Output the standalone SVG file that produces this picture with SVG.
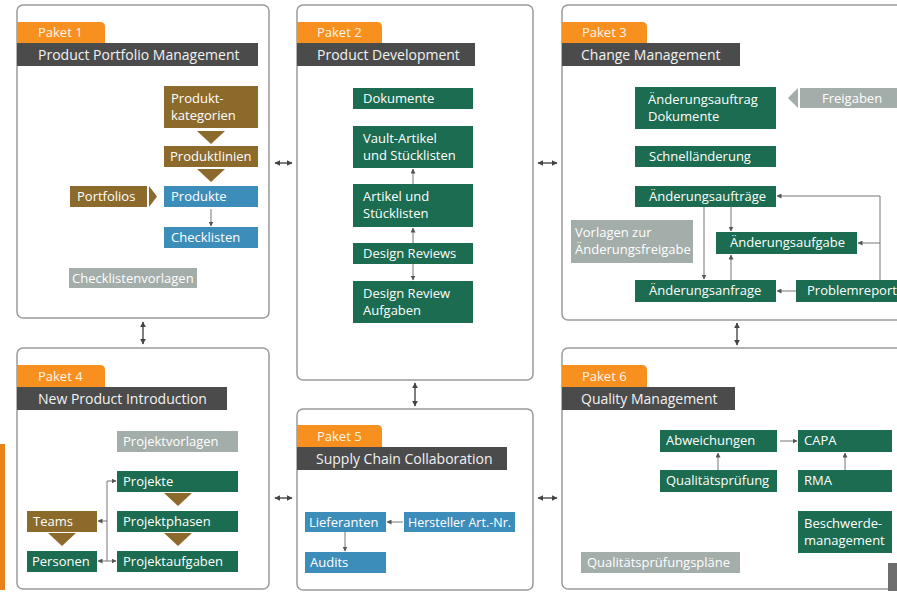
<svg xmlns="http://www.w3.org/2000/svg" width="897" height="596" viewBox="0 0 897 596">
<defs>
<style>
.panel{fill:#fff;stroke:#9a9a9a;stroke-width:1.5}
.tab{fill:#f7901e}
.hdr{fill:#4b4b4b}
.tabt{font-family:"Open Sans","DejaVu Sans",sans-serif;font-size:13px;fill:#fff5e8}
.hdrt{font-family:"Open Sans","DejaVu Sans",sans-serif;font-size:14px;fill:#f2f2f2}
.g{fill:#1b6c50}
.b{fill:#8c6a2c}
.bl{fill:#3d8dba}
.gr{fill:#a3adaa}
.t{font-family:"Open Sans","DejaVu Sans",sans-serif;font-size:13px;fill:#fff}
.c{fill:none;stroke:#777;stroke-width:1}
.pc{fill:none;stroke:#555;stroke-width:1.5}
</style>
<marker id="a" viewBox="0 0 10 10" refX="9" refY="5" markerWidth="5" markerHeight="5" markerUnits="userSpaceOnUse" orient="auto-start-reverse"><path d="M0,0 L10,5 L0,10 Z" fill="#555"/></marker>
<marker id="pa" viewBox="0 0 10 10" refX="9" refY="5" markerWidth="6" markerHeight="6" markerUnits="userSpaceOnUse" orient="auto-start-reverse"><path d="M0,0 L10,5 L0,10 Z" fill="#444"/></marker>
</defs>
<rect x="0" y="0" width="897" height="596" fill="#fff"/>
<rect x="0" y="444" width="5" height="146" fill="#e8821a"/>

<!-- Panels -->
<g id="paket1">
<rect class="panel" x="17" y="5" width="252" height="313" rx="6"/>
<path class="tab" d="M17,43 V22 H100 Q105,22 105,27 V43 Z"/>
<rect class="hdr" x="17" y="43" width="241" height="23"/>
<text class="tabt" x="38" y="37">Paket 1</text>
<text class="hdrt" x="38" y="60">Product Portfolio Management</text>
</g>
<g id="paket2">
<rect class="panel" x="297" y="5" width="236" height="375" rx="6"/>
<path class="tab" d="M297,43 V22 H377 Q382,22 382,27 V43 Z"/>
<rect class="hdr" x="297" y="43" width="178" height="23"/>
<text class="tabt" x="317" y="37">Paket 2</text>
<text class="hdrt" x="317" y="60">Product Development</text>
</g>
<g id="paket3">
<rect class="panel" x="562" y="5" width="345" height="315" rx="6"/>
<path class="tab" d="M562,43 V22 H642 Q647,22 647,27 V43 Z"/>
<rect class="hdr" x="562" y="43" width="178" height="23"/>
<text class="tabt" x="582" y="37">Paket 3</text>
<text class="hdrt" x="581" y="60">Change Management</text>
</g>
<g id="paket4">
<rect class="panel" x="17" y="348" width="252" height="241" rx="6"/>
<path class="tab" d="M17,387 V365 H100 Q105,365 105,370 V387 Z"/>
<rect class="hdr" x="17" y="387" width="210" height="23"/>
<text class="tabt" x="38" y="381">Paket 4</text>
<text class="hdrt" x="38" y="404">New Product Introduction</text>
</g>
<g id="paket5">
<rect class="panel" x="297" y="409" width="236" height="181" rx="6"/>
<path class="tab" d="M297,447 V425 H377 Q382,425 382,430 V447 Z"/>
<rect class="hdr" x="297" y="447" width="210" height="23"/>
<text class="tabt" x="317" y="441">Paket 5</text>
<text class="hdrt" x="316" y="464">Supply Chain Collaboration</text>
</g>
<g id="paket6">
<rect class="panel" x="562" y="348" width="345" height="241" rx="6"/>
<path class="tab" d="M562,387 V365 H642 Q647,365 647,370 V387 Z"/>
<rect class="hdr" x="562" y="387" width="173" height="23"/>
<text class="tabt" x="582" y="381">Paket 6</text>
<text class="hdrt" x="581" y="404">Quality Management</text>
</g>

<!-- Paket 1 nodes -->
<g id="produktkategorien"><rect class="b" x="164" y="86" width="94" height="42"/><text class="t" x="171" y="103">Produkt-</text><text class="t" x="171" y="120">kategorien</text></g>
<g id="tri-p1a"><polygon class="b" points="197,131 225,131 211,144"/></g>
<g id="produktlinien"><rect class="b" x="164" y="146" width="94" height="21"/><text class="t" x="170" y="161">Produktlinien</text></g>
<g id="tri-p1b"><polygon class="b" points="197,169 225,169 211,182"/></g>
<g id="produkte"><rect class="bl" x="164" y="186" width="94" height="21"/><text class="t" x="171" y="201">Produkte</text></g>
<g id="portfolios"><rect class="b" x="70" y="186" width="77" height="21"/><polygon class="b" points="149,186 157,196.5 149,207"/><text class="t" x="77" y="201">Portfolios</text></g>
<g id="checklisten"><rect class="bl" x="164" y="227" width="94" height="21"/><text class="t" x="171" y="242">Checklisten</text></g>
<g id="checklistenvorlagen"><rect class="gr" x="69" y="268" width="128" height="20"/><text class="t" x="72" y="283">Checklistenvorlagen</text></g>

<!-- Paket 2 nodes -->
<g id="dokumente"><rect class="g" x="353" y="88" width="120" height="21"/><text class="t" x="363" y="103">Dokumente</text></g>
<g id="vault-artikel"><rect class="g" x="353" y="126" width="120" height="42"/><text class="t" x="363" y="143">Vault-Artikel</text><text class="t" x="363" y="160">und Stücklisten</text></g>
<g id="artikel"><rect class="g" x="353" y="184" width="120" height="43"/><text class="t" x="363" y="201">Artikel und</text><text class="t" x="363" y="218">Stücklisten</text></g>
<g id="design-reviews"><rect class="g" x="353" y="243" width="120" height="21"/><text class="t" x="363" y="258">Design Reviews</text></g>
<g id="design-review-aufgaben"><rect class="g" x="353" y="281" width="120" height="42"/><text class="t" x="363" y="298">Design Review</text><text class="t" x="363" y="315">Aufgaben</text></g>

<!-- Paket 3 nodes -->
<g id="aenderungsauftrag-dokumente"><rect class="g" x="635" y="87" width="141" height="42"/><text class="t" x="648" y="104">Änderungsauftrag</text><text class="t" x="648" y="121">Dokumente</text></g>
<g id="freigaben"><polygon class="gr" points="788,98 798,88 798,108"/><rect class="gr" x="800" y="88" width="100" height="20"/><text class="t" x="822" y="103">Freigaben</text></g>
<g id="schnellaenderung"><rect class="g" x="635" y="146" width="141" height="21"/><text class="t" x="649" y="161">Schnelländerung</text></g>
<g id="aenderungsauftraege"><rect class="g" x="635" y="186" width="141" height="21"/><text class="t" x="649" y="201">Änderungsaufträge</text></g>
<g id="aenderungsaufgabe"><rect class="g" x="716" y="232" width="141" height="22"/><text class="t" x="730" y="247">Änderungsaufgabe</text></g>
<g id="vorlagen"><rect class="gr" x="571" y="220" width="122" height="43"/><text class="t" x="575" y="237">Vorlagen zur</text><text class="t" x="575" y="254">Änderungsfreigabe</text></g>
<g id="aenderungsanfrage"><rect class="g" x="635" y="280" width="141" height="22"/><text class="t" x="649" y="295">Änderungsanfrage</text></g>
<g id="problemreport"><rect class="g" x="796" y="280" width="110" height="22"/><text class="t" x="807" y="295">Problemreport</text></g>

<!-- Paket 4 nodes -->
<g id="projektvorlagen"><rect class="gr" x="117" y="431" width="121" height="21"/><text class="t" x="123" y="446">Projektvorlagen</text></g>
<g id="projekte"><rect class="g" x="117" y="471" width="121" height="21"/><text class="t" x="123" y="486">Projekte</text></g>
<g id="tri-p4a"><polygon class="b" points="164,493 192,493 178,506"/></g>
<g id="projektphasen"><rect class="g" x="117" y="511" width="121" height="21"/><text class="t" x="123" y="526">Projektphasen</text></g>
<g id="tri-p4b"><polygon class="b" points="164,533 192,533 178,546"/></g>
<g id="projektaufgaben"><rect class="g" x="117" y="551" width="121" height="21"/><text class="t" x="123" y="566">Projektaufgaben</text></g>
<g id="teams"><rect class="b" x="27" y="511" width="70" height="21"/><text class="t" x="33" y="526">Teams</text></g>
<g id="tri-p4c"><polygon class="b" points="48,533 76,533 62,546"/></g>
<g id="personen"><rect class="g" x="27" y="551" width="70" height="21"/><text class="t" x="32" y="566">Personen</text></g>

<!-- Paket 5 nodes -->
<g id="lieferanten"><rect class="bl" x="305" y="512" width="81" height="20"/><text class="t" x="309" y="527">Lieferanten</text></g>
<g id="hersteller"><rect class="bl" x="404" y="512" width="111" height="20"/><text class="t" x="408" y="527" style="font-size:12.5px">Hersteller Art.-Nr.</text></g>
<g id="audits"><rect class="bl" x="305" y="552" width="81" height="21"/><text class="t" x="310" y="567">Audits</text></g>

<!-- Paket 6 nodes -->
<g id="abweichungen"><rect class="g" x="660" y="430" width="117" height="22"/><text class="t" x="666" y="445">Abweichungen</text></g>
<g id="capa"><rect class="g" x="798" y="430" width="94" height="22"/><text class="t" x="804" y="445">CAPA</text></g>
<g id="qualitaetspruefung"><rect class="g" x="660" y="470" width="117" height="22"/><text class="t" x="666" y="485">Qualitätsprüfung</text></g>
<g id="rma"><rect class="g" x="798" y="470" width="94" height="22"/><text class="t" x="804" y="485">RMA</text></g>
<g id="beschwerdemanagement"><rect class="g" x="798" y="511" width="94" height="42"/><text class="t" x="804" y="528">Beschwerde-</text><text class="t" x="804" y="545">management</text></g>
<g id="qualitaetspruefungsplaene"><rect class="gr" x="581" y="552" width="159" height="21"/><text class="t" x="587" y="567">Qualitätsprüfungspläne</text></g>
<g id="partial-box"><rect x="888" y="563" width="12" height="28" fill="#6e6e6e"/></g>

<!-- Connectors -->
<g id="connectors">
<line class="pc" x1="275" y1="163" x2="292" y2="163" marker-start="url(#pa)" marker-end="url(#pa)"/>
<line class="pc" x1="538" y1="163" x2="557" y2="163" marker-start="url(#pa)" marker-end="url(#pa)"/>
<line class="pc" x1="143" y1="322" x2="143" y2="344" marker-start="url(#pa)" marker-end="url(#pa)"/>
<line class="pc" x1="415" y1="383" x2="415" y2="406" marker-start="url(#pa)" marker-end="url(#pa)"/>
<line class="pc" x1="737" y1="323" x2="737" y2="345" marker-start="url(#pa)" marker-end="url(#pa)"/>
<line class="pc" x1="275" y1="498" x2="292" y2="498" marker-start="url(#pa)" marker-end="url(#pa)"/>
<line class="pc" x1="538" y1="498" x2="557" y2="498" marker-start="url(#pa)" marker-end="url(#pa)"/>

<line class="c" x1="211" y1="209" x2="211" y2="226" marker-end="url(#a)"/>

<line class="c" x1="413" y1="184" x2="413" y2="169" marker-end="url(#a)"/>
<line class="c" x1="413" y1="243" x2="413" y2="228" marker-end="url(#a)"/>
<line class="c" x1="413" y1="264" x2="413" y2="280" marker-end="url(#a)"/>

<line class="c" x1="704" y1="207" x2="704" y2="279" marker-end="url(#a)"/>
<line class="c" x1="731" y1="207" x2="731" y2="231" marker-end="url(#a)"/>
<line class="c" x1="731" y1="280" x2="731" y2="255" marker-end="url(#a)"/>
<line class="c" x1="796" y1="291" x2="777" y2="291" marker-end="url(#a)"/>
<path class="c" d="M880,280 V196 H777" marker-end="url(#a)"/>
<line class="c" x1="880" y1="243" x2="858" y2="243" marker-end="url(#a)"/>

<path class="c" d="M107,561 V481 H116" marker-end="url(#a)"/>
<line class="c" x1="107" y1="521" x2="98" y2="521" marker-end="url(#a)"/>
<line class="c" x1="98" y1="561" x2="116" y2="561" marker-start="url(#a)" marker-end="url(#a)"/>

<line class="c" x1="403" y1="522" x2="387" y2="522" marker-end="url(#a)"/>
<line class="c" x1="345" y1="532" x2="345" y2="551" marker-end="url(#a)"/>

<line class="c" x1="780" y1="441" x2="797" y2="441" marker-end="url(#a)"/>
<line class="c" x1="718" y1="470" x2="718" y2="453" marker-end="url(#a)"/>
<line class="c" x1="845" y1="470" x2="845" y2="453" marker-end="url(#a)"/>
</g>
</svg>
